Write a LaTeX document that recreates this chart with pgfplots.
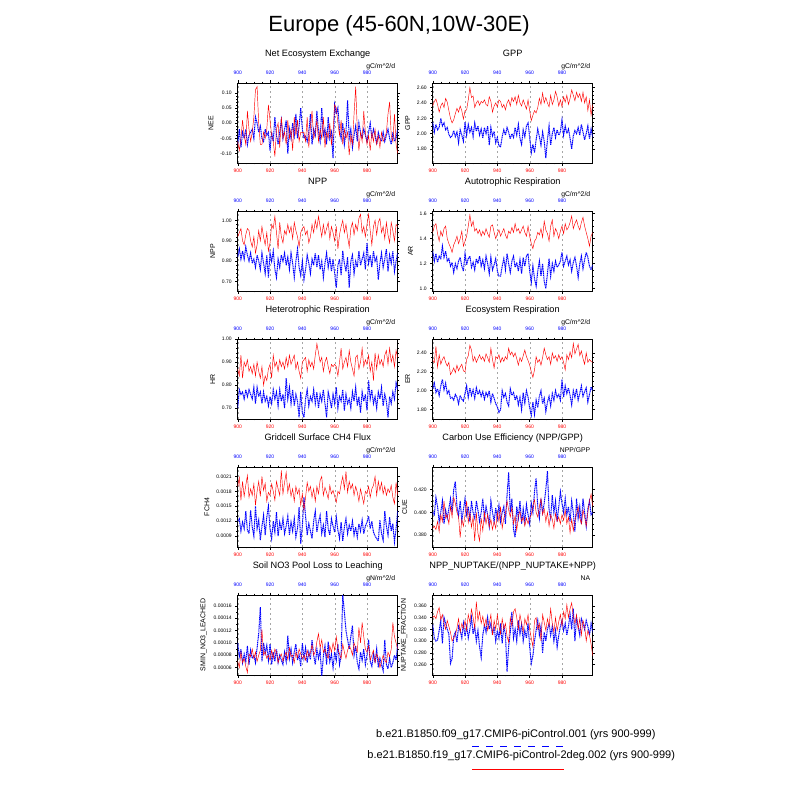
\documentclass[border=0pt]{standalone}
\usepackage{pgfplots}
\usepackage{pgfplotstable}
\pgfplotsset{compat=1.18}
\usepackage{fontspec}
\setmainfont{Liberation Sans}

\newcommand{\tickfont}{\fontsize{5}{5}\selectfont}

% ---- data: one column per series, years 900..999 ----
\pgfplotstableread[row sep=\\,header=false]{
-0.06\\ -0.09\\ -0.05\\ 0.01\\ -0.04\\ -0.07\\ 0.04\\ -0.02\\ -0.06\\ -0.03\\
0.02\\ 0.11\\ 0.12\\ 0.00\\ -0.07\\ -0.07\\ -0.03\\ -0.05\\ -0.02\\ 0.06\\
0.01\\ -0.04\\ -0.06\\ -0.11\\ -0.02\\ 0.00\\ -0.08\\ 0.02\\ -0.05\\ -0.03\\
-0.07\\ 0.01\\ -0.05\\ -0.02\\ -0.09\\ 0.02\\ -0.04\\ 0.01\\ -0.06\\ -0.03\\
-0.03\\ -0.03\\ -0.06\\ 0.02\\ -0.08\\ -0.01\\ 0.04\\ -0.05\\ -0.03\\ 0.01\\
-0.06\\ -0.02\\ -0.05\\ 0.02\\ -0.08\\ -0.03\\ -0.05\\ 0.00\\ -0.07\\ -0.03\\
0.06\\ 0.05\\ 0.00\\ -0.04\\ 0.01\\ -0.07\\ -0.02\\ -0.05\\ -0.03\\ -0.105\\
-0.04\\ -0.07\\ 0.03\\ 0.12\\ -0.02\\ -0.09\\ -0.03\\ -0.06\\ 0.04\\ -0.03\\
-0.07\\ -0.04\\ -0.09\\ -0.03\\ -0.06\\ -0.02\\ -0.07\\ -0.04\\ -0.08\\ -0.03\\
-0.06\\ -0.05\\ -0.03\\ 0.03\\ 0.07\\ -0.04\\ -0.06\\ 0.03\\ -0.07\\ -0.10\\
}\neeR
\pgfplotstableread[row sep=\\,header=false]{
-0.07\\ -0.02\\ -0.08\\ -0.03\\ -0.05\\ -0.02\\ -0.07\\ -0.04\\ -0.03\\ -0.02\\
-0.05\\ 0.02\\ 0.00\\ -0.03\\ -0.01\\ -0.05\\ -0.06\\ -0.02\\ -0.04\\ -0.03\\
-0.09\\ -0.03\\ -0.06\\ 0.02\\ -0.04\\ -0.07\\ -0.03\\ 0.01\\ -0.05\\ -0.02\\
0.01\\ -0.10\\ -0.02\\ -0.05\\ 0.00\\ -0.04\\ 0.03\\ -0.05\\ -0.01\\ 0.05\\
-0.02\\ -0.05\\ -0.04\\ -0.06\\ -0.03\\ 0.03\\ -0.07\\ -0.02\\ -0.04\\ 0.04\\
-0.03\\ -0.06\\ 0.05\\ -0.04\\ -0.02\\ -0.07\\ 0.02\\ -0.05\\ -0.03\\ -0.115\\
0.06\\ 0.03\\ 0.05\\ -0.02\\ -0.05\\ 0.00\\ -0.07\\ -0.03\\ 0.075\\ -0.05\\
-0.02\\ -0.08\\ -0.04\\ -0.01\\ -0.06\\ 0.00\\ -0.03\\ -0.05\\ -0.02\\ -0.04\\
-0.06\\ -0.03\\ 0.00\\ -0.05\\ -0.02\\ -0.04\\ -0.07\\ -0.03\\ -0.05\\ -0.06\\
-0.03\\ -0.06\\ -0.04\\ -0.02\\ -0.05\\ -0.07\\ -0.03\\ -0.06\\ -0.05\\ -0.02\\
}\neeB
\pgfplotstableread[row sep=\\,header=false]{
2.36\\ 2.42\\ 2.45\\ 2.38\\ 2.28\\ 2.36\\ 2.40\\ 2.34\\ 2.46\\ 2.41\\
2.30\\ 2.20\\ 2.14\\ 2.18\\ 2.26\\ 2.33\\ 2.28\\ 2.36\\ 2.30\\ 2.19\\
2.30\\ 2.31\\ 2.44\\ 2.60\\ 2.47\\ 2.49\\ 2.34\\ 2.40\\ 2.43\\ 2.37\\
2.42\\ 2.40\\ 2.44\\ 2.38\\ 2.36\\ 2.48\\ 2.42\\ 2.28\\ 2.36\\ 2.40\\
2.35\\ 2.44\\ 2.42\\ 2.34\\ 2.38\\ 2.31\\ 2.40\\ 2.44\\ 2.36\\ 2.47\\
2.42\\ 2.48\\ 2.38\\ 2.50\\ 2.40\\ 2.36\\ 2.44\\ 2.38\\ 2.32\\ 2.44\\
2.30\\ 2.17\\ 2.24\\ 2.30\\ 2.27\\ 2.34\\ 2.46\\ 2.38\\ 2.53\\ 2.40\\
2.47\\ 2.40\\ 2.35\\ 2.50\\ 2.38\\ 2.44\\ 2.55\\ 2.48\\ 2.36\\ 2.44\\
2.35\\ 2.48\\ 2.41\\ 2.50\\ 2.38\\ 2.46\\ 2.57\\ 2.50\\ 2.43\\ 2.54\\
2.47\\ 2.52\\ 2.42\\ 2.54\\ 2.40\\ 2.48\\ 2.30\\ 2.44\\ 2.24\\ 2.38\\
}\gppR
\pgfplotstableread[row sep=\\,header=false]{
2.15\\ 2.02\\ 2.12\\ 2.05\\ 2.08\\ 2.20\\ 2.10\\ 2.14\\ 2.05\\ 2.08\\
1.99\\ 1.95\\ 1.97\\ 2.04\\ 1.96\\ 2.02\\ 1.88\\ 2.05\\ 1.98\\ 1.90\\
2.15\\ 1.98\\ 2.12\\ 2.02\\ 2.08\\ 1.96\\ 2.14\\ 2.03\\ 2.10\\ 1.98\\
2.06\\ 1.94\\ 2.08\\ 2.00\\ 2.10\\ 1.85\\ 2.08\\ 1.97\\ 2.03\\ 1.88\\
1.95\\ 1.84\\ 1.83\\ 1.96\\ 2.05\\ 1.98\\ 2.08\\ 2.02\\ 1.93\\ 2.00\\
1.95\\ 2.08\\ 1.98\\ 2.12\\ 1.94\\ 1.86\\ 2.05\\ 1.96\\ 2.10\\ 2.14\\
1.95\\ 1.75\\ 1.86\\ 1.75\\ 1.92\\ 2.06\\ 1.96\\ 1.85\\ 2.02\\ 1.90\\
1.68\\ 1.92\\ 2.10\\ 1.85\\ 2.00\\ 2.08\\ 1.95\\ 2.05\\ 1.98\\ 2.02\\
2.18\\ 1.98\\ 2.10\\ 2.00\\ 2.06\\ 1.94\\ 1.80\\ 1.97\\ 2.04\\ 2.00\\
2.08\\ 1.98\\ 2.12\\ 2.02\\ 1.92\\ 2.00\\ 2.10\\ 1.93\\ 2.06\\ 1.95\\
}\gppB
\pgfplotstableread[row sep=\\,header=false]{
0.92\\ 0.94\\ 0.96\\ 0.90\\ 0.88\\ 0.93\\ 0.96\\ 0.95\\ 0.90\\ 0.87\\
0.92\\ 0.84\\ 0.88\\ 0.95\\ 0.90\\ 0.97\\ 0.92\\ 0.88\\ 0.94\\ 0.85\\
0.89\\ 0.98\\ 0.96\\ 1.02\\ 0.94\\ 0.86\\ 0.99\\ 0.92\\ 0.89\\ 0.95\\
0.93\\ 0.98\\ 0.94\\ 0.97\\ 0.91\\ 0.99\\ 0.95\\ 0.92\\ 0.87\\ 0.94\\
0.96\\ 0.97\\ 0.93\\ 0.95\\ 0.89\\ 0.92\\ 0.98\\ 0.94\\ 1.00\\ 0.96\\
1.02\\ 0.97\\ 0.92\\ 0.98\\ 0.93\\ 0.96\\ 0.99\\ 0.91\\ 0.97\\ 0.94\\
0.90\\ 0.97\\ 0.86\\ 0.93\\ 0.97\\ 1.00\\ 0.94\\ 0.98\\ 0.92\\ 0.87\\
0.96\\ 0.99\\ 0.93\\ 0.98\\ 0.95\\ 1.01\\ 1.03\\ 0.94\\ 0.97\\ 0.92\\
0.98\\ 1.03\\ 0.95\\ 0.88\\ 0.97\\ 1.00\\ 0.93\\ 0.99\\ 1.01\\ 0.94\\
0.97\\ 0.91\\ 0.99\\ 0.93\\ 0.89\\ 0.99\\ 0.95\\ 0.90\\ 0.98\\ 0.97\\
}\nppR
\pgfplotstableread[row sep=\\,header=false]{
0.82\\ 0.86\\ 0.81\\ 0.85\\ 0.81\\ 0.87\\ 0.83\\ 0.80\\ 0.84\\ 0.79\\
0.81\\ 0.77\\ 0.83\\ 0.80\\ 0.76\\ 0.84\\ 0.79\\ 0.74\\ 0.83\\ 0.72\\
0.84\\ 0.80\\ 0.85\\ 0.76\\ 0.72\\ 0.81\\ 0.77\\ 0.83\\ 0.80\\ 0.84\\
0.78\\ 0.82\\ 0.76\\ 0.84\\ 0.79\\ 0.72\\ 0.80\\ 0.86\\ 0.77\\ 0.73\\
0.80\\ 0.71\\ 0.76\\ 0.83\\ 0.79\\ 0.74\\ 0.81\\ 0.78\\ 0.84\\ 0.77\\
0.83\\ 0.76\\ 0.80\\ 0.72\\ 0.79\\ 0.84\\ 0.77\\ 0.82\\ 0.75\\ 0.81\\
0.74\\ 0.67\\ 0.78\\ 0.81\\ 0.73\\ 0.85\\ 0.79\\ 0.75\\ 0.82\\ 0.67\\
0.80\\ 0.83\\ 0.74\\ 0.80\\ 0.77\\ 0.85\\ 0.78\\ 0.81\\ 0.84\\ 0.76\\
0.89\\ 0.79\\ 0.83\\ 0.77\\ 0.85\\ 0.80\\ 0.82\\ 0.71\\ 0.79\\ 0.84\\
0.77\\ 0.81\\ 0.86\\ 0.75\\ 0.83\\ 0.79\\ 0.85\\ 0.75\\ 0.80\\ 0.84\\
}\nppB
\pgfplotstableread[row sep=\\,header=false]{
1.45\\ 1.50\\ 1.52\\ 1.44\\ 1.38\\ 1.46\\ 1.42\\ 1.48\\ 1.50\\ 1.40\\
1.36\\ 1.33\\ 1.29\\ 1.35\\ 1.38\\ 1.42\\ 1.36\\ 1.40\\ 1.46\\ 1.34\\
1.38\\ 1.42\\ 1.50\\ 1.59\\ 1.50\\ 1.54\\ 1.46\\ 1.48\\ 1.44\\ 1.47\\
1.42\\ 1.46\\ 1.43\\ 1.48\\ 1.44\\ 1.41\\ 1.50\\ 1.51\\ 1.45\\ 1.40\\
1.44\\ 1.47\\ 1.42\\ 1.45\\ 1.48\\ 1.43\\ 1.40\\ 1.46\\ 1.44\\ 1.49\\
1.45\\ 1.52\\ 1.46\\ 1.48\\ 1.44\\ 1.47\\ 1.50\\ 1.45\\ 1.42\\ 1.50\\
1.42\\ 1.36\\ 1.32\\ 1.38\\ 1.40\\ 1.45\\ 1.43\\ 1.48\\ 1.41\\ 1.54\\
1.47\\ 1.44\\ 1.38\\ 1.50\\ 1.55\\ 1.42\\ 1.48\\ 1.45\\ 1.40\\ 1.46\\
1.50\\ 1.44\\ 1.52\\ 1.47\\ 1.49\\ 1.53\\ 1.58\\ 1.48\\ 1.52\\ 1.55\\
1.50\\ 1.47\\ 1.53\\ 1.57\\ 1.50\\ 1.45\\ 1.40\\ 1.34\\ 1.42\\ 1.45\\
}\arR
\pgfplotstableread[row sep=\\,header=false]{
1.30\\ 1.22\\ 1.28\\ 1.21\\ 1.26\\ 1.24\\ 1.34\\ 1.25\\ 1.30\\ 1.22\\
1.24\\ 1.18\\ 1.21\\ 1.13\\ 1.20\\ 1.16\\ 1.22\\ 1.25\\ 1.18\\ 1.14\\
1.28\\ 1.19\\ 1.24\\ 1.26\\ 1.17\\ 1.21\\ 1.15\\ 1.24\\ 1.20\\ 1.26\\
1.18\\ 1.23\\ 1.16\\ 1.26\\ 1.20\\ 1.12\\ 1.25\\ 1.15\\ 1.19\\ 1.24\\
1.14\\ 1.10\\ 1.10\\ 1.18\\ 1.24\\ 1.15\\ 1.28\\ 1.20\\ 1.13\\ 1.22\\
1.26\\ 1.17\\ 1.21\\ 1.14\\ 1.23\\ 1.12\\ 1.25\\ 1.18\\ 1.26\\ 1.28\\
1.14\\ 1.05\\ 1.18\\ 1.08\\ 1.02\\ 1.14\\ 1.22\\ 1.10\\ 1.20\\ 1.06\\
1.00\\ 1.12\\ 1.24\\ 1.10\\ 1.20\\ 1.14\\ 1.22\\ 1.17\\ 1.19\\ 1.22\\
1.29\\ 1.18\\ 1.22\\ 1.26\\ 1.19\\ 1.23\\ 1.14\\ 1.21\\ 1.25\\ 1.18\\
1.09\\ 1.20\\ 1.26\\ 1.16\\ 1.23\\ 1.29\\ 1.25\\ 1.18\\ 1.15\\ 1.19\\
}\arB
\pgfplotstableread[row sep=\\,header=false]{
0.87\\ 0.84\\ 0.93\\ 0.83\\ 0.90\\ 0.88\\ 0.91\\ 0.86\\ 0.88\\ 0.85\\
0.89\\ 0.84\\ 0.90\\ 0.86\\ 0.83\\ 0.88\\ 0.80\\ 0.84\\ 0.82\\ 0.87\\
0.89\\ 0.83\\ 0.93\\ 0.88\\ 0.90\\ 0.86\\ 0.91\\ 0.88\\ 0.90\\ 0.87\\
0.92\\ 0.88\\ 0.93\\ 0.89\\ 0.91\\ 0.93\\ 0.87\\ 0.90\\ 0.86\\ 0.83\\
0.90\\ 0.91\\ 0.92\\ 0.86\\ 0.91\\ 0.88\\ 0.90\\ 0.87\\ 0.93\\ 0.98\\
0.94\\ 0.90\\ 0.92\\ 0.86\\ 0.90\\ 0.92\\ 0.88\\ 0.85\\ 0.89\\ 0.88\\
0.89\\ 0.88\\ 0.84\\ 0.90\\ 0.96\\ 0.87\\ 0.90\\ 0.92\\ 0.88\\ 0.95\\
0.90\\ 0.87\\ 0.84\\ 0.92\\ 0.93\\ 0.87\\ 0.90\\ 0.96\\ 0.88\\ 0.91\\
0.89\\ 0.93\\ 0.86\\ 0.90\\ 0.82\\ 0.94\\ 0.87\\ 0.93\\ 0.89\\ 0.91\\
0.88\\ 0.93\\ 0.95\\ 0.89\\ 0.96\\ 0.90\\ 0.93\\ 0.88\\ 0.95\\ 0.92\\
}\hrR
\pgfplotstableread[row sep=\\,header=false]{
0.70\\ 0.78\\ 0.76\\ 0.77\\ 0.74\\ 0.78\\ 0.75\\ 0.78\\ 0.76\\ 0.74\\
0.79\\ 0.72\\ 0.79\\ 0.75\\ 0.77\\ 0.72\\ 0.77\\ 0.73\\ 0.75\\ 0.71\\
0.75\\ 0.72\\ 0.78\\ 0.74\\ 0.77\\ 0.71\\ 0.78\\ 0.73\\ 0.76\\ 0.70\\
0.83\\ 0.74\\ 0.79\\ 0.72\\ 0.78\\ 0.71\\ 0.76\\ 0.73\\ 0.66\\ 0.77\\
0.68\\ 0.66\\ 0.74\\ 0.78\\ 0.71\\ 0.75\\ 0.73\\ 0.78\\ 0.72\\ 0.77\\
0.70\\ 0.76\\ 0.73\\ 0.78\\ 0.72\\ 0.66\\ 0.77\\ 0.74\\ 0.70\\ 0.76\\
0.72\\ 0.79\\ 0.70\\ 0.75\\ 0.73\\ 0.78\\ 0.69\\ 0.76\\ 0.72\\ 0.74\\
0.70\\ 0.77\\ 0.73\\ 0.79\\ 0.71\\ 0.75\\ 0.68\\ 0.77\\ 0.73\\ 0.76\\
0.69\\ 0.82\\ 0.74\\ 0.78\\ 0.72\\ 0.75\\ 0.70\\ 0.77\\ 0.74\\ 0.79\\
0.71\\ 0.76\\ 0.73\\ 0.66\\ 0.75\\ 0.72\\ 0.77\\ 0.74\\ 0.81\\ 0.78\\
}\hrB
\pgfplotstableread[row sep=\\,header=false]{
2.32\\ 2.30\\ 2.47\\ 2.25\\ 2.38\\ 2.28\\ 2.33\\ 2.36\\ 2.30\\ 2.26\\
2.30\\ 2.17\\ 2.20\\ 2.24\\ 2.19\\ 2.27\\ 2.21\\ 2.25\\ 2.28\\ 2.21\\
2.20\\ 2.33\\ 2.37\\ 2.48\\ 2.43\\ 2.31\\ 2.36\\ 2.30\\ 2.34\\ 2.38\\
2.33\\ 2.36\\ 2.31\\ 2.39\\ 2.35\\ 2.30\\ 2.45\\ 2.33\\ 2.24\\ 2.36\\
2.34\\ 2.38\\ 2.30\\ 2.35\\ 2.31\\ 2.36\\ 2.33\\ 2.45\\ 2.38\\ 2.41\\
2.36\\ 2.40\\ 2.34\\ 2.27\\ 2.35\\ 2.31\\ 2.37\\ 2.43\\ 2.36\\ 2.32\\
2.27\\ 2.20\\ 2.14\\ 2.22\\ 2.36\\ 2.30\\ 2.33\\ 2.27\\ 2.35\\ 2.45\\
2.38\\ 2.33\\ 2.36\\ 2.28\\ 2.40\\ 2.34\\ 2.37\\ 2.31\\ 2.38\\ 2.33\\
2.36\\ 2.30\\ 2.22\\ 2.38\\ 2.33\\ 2.41\\ 2.35\\ 2.50\\ 2.39\\ 2.44\\
2.49\\ 2.37\\ 2.42\\ 2.34\\ 2.28\\ 2.40\\ 2.30\\ 2.33\\ 2.31\\ 2.30\\
}\erR
\pgfplotstableread[row sep=\\,header=false]{
2.02\\ 2.08\\ 1.98\\ 2.02\\ 1.95\\ 2.05\\ 2.12\\ 2.01\\ 2.08\\ 1.97\\
2.00\\ 1.92\\ 1.93\\ 1.90\\ 1.96\\ 1.93\\ 1.86\\ 1.95\\ 1.91\\ 1.89\\
1.97\\ 2.05\\ 1.93\\ 2.03\\ 1.95\\ 2.01\\ 1.92\\ 2.03\\ 1.96\\ 2.00\\
1.94\\ 1.99\\ 1.91\\ 1.98\\ 1.94\\ 2.00\\ 1.88\\ 1.97\\ 1.92\\ 1.86\\
1.83\\ 1.77\\ 1.80\\ 2.00\\ 1.93\\ 1.97\\ 1.88\\ 1.84\\ 2.02\\ 1.95\\
1.98\\ 1.90\\ 1.95\\ 1.85\\ 1.93\\ 1.80\\ 1.98\\ 1.87\\ 2.00\\ 1.93\\
1.82\\ 1.74\\ 1.88\\ 1.75\\ 1.90\\ 1.82\\ 1.94\\ 2.00\\ 1.86\\ 1.92\\
1.78\\ 1.88\\ 1.94\\ 1.84\\ 1.97\\ 1.90\\ 2.00\\ 1.93\\ 1.96\\ 1.90\\
2.12\\ 1.93\\ 2.05\\ 1.97\\ 2.03\\ 1.95\\ 1.85\\ 2.00\\ 1.93\\ 2.02\\
1.90\\ 1.97\\ 2.05\\ 1.94\\ 1.99\\ 2.03\\ 1.88\\ 1.96\\ 2.04\\ 2.00\\
}\erB
\pgfplotstableread[row sep=\\,header=false]{
0.00190\\ 0.00208\\ 0.00162\\ 0.00200\\ 0.00170\\ 0.00192\\ 0.00212\\ 0.00168\\ 0.00185\\ 0.00172\\
0.00195\\ 0.00152\\ 0.00180\\ 0.00200\\ 0.00170\\ 0.00210\\ 0.00182\\ 0.00196\\ 0.00160\\ 0.00178\\
0.00172\\ 0.00195\\ 0.00180\\ 0.00162\\ 0.00200\\ 0.00185\\ 0.00172\\ 0.00222\\ 0.00175\\ 0.00198\\
0.00218\\ 0.00178\\ 0.00195\\ 0.00170\\ 0.00185\\ 0.00160\\ 0.00190\\ 0.00175\\ 0.00185\\ 0.00152\\
0.00175\\ 0.00142\\ 0.00168\\ 0.00198\\ 0.00180\\ 0.00190\\ 0.00168\\ 0.00185\\ 0.00160\\ 0.00190\\
0.00175\\ 0.00202\\ 0.00210\\ 0.00172\\ 0.00188\\ 0.00178\\ 0.00165\\ 0.00192\\ 0.00175\\ 0.00182\\
0.00170\\ 0.00158\\ 0.00180\\ 0.00175\\ 0.00195\\ 0.00210\\ 0.00185\\ 0.00220\\ 0.00178\\ 0.00200\\
0.00185\\ 0.00195\\ 0.00172\\ 0.00190\\ 0.00178\\ 0.00160\\ 0.00185\\ 0.00170\\ 0.00155\\ 0.00180\\
0.00175\\ 0.00190\\ 0.00168\\ 0.00185\\ 0.00192\\ 0.00210\\ 0.00172\\ 0.00200\\ 0.00182\\ 0.00198\\
0.00175\\ 0.00190\\ 0.00172\\ 0.00185\\ 0.00178\\ 0.00192\\ 0.00168\\ 0.00155\\ 0.00198\\ 0.00172\\
}\chR
\pgfplotstableread[row sep=\\,header=false]{
0.00120\\ 0.00125\\ 0.00100\\ 0.00118\\ 0.00105\\ 0.00140\\ 0.00102\\ 0.00095\\ 0.00142\\ 0.00108\\
0.00090\\ 0.00150\\ 0.00105\\ 0.00122\\ 0.00082\\ 0.00110\\ 0.00132\\ 0.00092\\ 0.00128\\ 0.00150\\
0.00105\\ 0.00085\\ 0.00120\\ 0.00098\\ 0.00138\\ 0.00090\\ 0.00118\\ 0.00102\\ 0.00125\\ 0.00095\\
0.00110\\ 0.00130\\ 0.00092\\ 0.00118\\ 0.00100\\ 0.00125\\ 0.00088\\ 0.00105\\ 0.00148\\ 0.00075\\
0.00110\\ 0.00168\\ 0.00130\\ 0.00092\\ 0.00115\\ 0.00100\\ 0.00085\\ 0.00120\\ 0.00140\\ 0.00098\\
0.00118\\ 0.00132\\ 0.00095\\ 0.00112\\ 0.00088\\ 0.00140\\ 0.00105\\ 0.00092\\ 0.00125\\ 0.00110\\
0.00098\\ 0.00128\\ 0.00102\\ 0.00085\\ 0.00118\\ 0.00080\\ 0.00108\\ 0.00125\\ 0.00095\\ 0.00112\\
0.00100\\ 0.00120\\ 0.00092\\ 0.00108\\ 0.00088\\ 0.00115\\ 0.00100\\ 0.00122\\ 0.00095\\ 0.00110\\
0.00118\\ 0.00130\\ 0.00105\\ 0.00120\\ 0.00098\\ 0.00090\\ 0.00085\\ 0.00080\\ 0.00122\\ 0.00095\\
0.00082\\ 0.00140\\ 0.00110\\ 0.00092\\ 0.00128\\ 0.00100\\ 0.00115\\ 0.00078\\ 0.00105\\ 0.00140\\
}\chB
\pgfplotstableread[row sep=\\,header=false]{
0.386\\ 0.388\\ 0.385\\ 0.392\\ 0.383\\ 0.398\\ 0.392\\ 0.410\\ 0.395\\ 0.398\\
0.390\\ 0.405\\ 0.396\\ 0.413\\ 0.408\\ 0.400\\ 0.396\\ 0.378\\ 0.394\\ 0.388\\
0.398\\ 0.410\\ 0.391\\ 0.400\\ 0.387\\ 0.396\\ 0.375\\ 0.400\\ 0.382\\ 0.375\\
0.395\\ 0.384\\ 0.400\\ 0.390\\ 0.398\\ 0.387\\ 0.394\\ 0.385\\ 0.392\\ 0.386\\
0.400\\ 0.392\\ 0.405\\ 0.386\\ 0.395\\ 0.399\\ 0.410\\ 0.402\\ 0.396\\ 0.404\\
0.390\\ 0.397\\ 0.384\\ 0.397\\ 0.401\\ 0.392\\ 0.396\\ 0.388\\ 0.395\\ 0.390\\
0.395\\ 0.398\\ 0.406\\ 0.411\\ 0.400\\ 0.396\\ 0.405\\ 0.412\\ 0.398\\ 0.403\\
0.392\\ 0.400\\ 0.388\\ 0.398\\ 0.394\\ 0.386\\ 0.399\\ 0.392\\ 0.396\\ 0.390\\
0.398\\ 0.393\\ 0.402\\ 0.390\\ 0.396\\ 0.382\\ 0.394\\ 0.384\\ 0.393\\ 0.398\\
0.405\\ 0.395\\ 0.390\\ 0.402\\ 0.396\\ 0.388\\ 0.400\\ 0.410\\ 0.416\\ 0.405\\
}\cueR
\pgfplotstableread[row sep=\\,header=false]{
0.400\\ 0.398\\ 0.413\\ 0.405\\ 0.392\\ 0.400\\ 0.410\\ 0.390\\ 0.402\\ 0.395\\
0.403\\ 0.412\\ 0.400\\ 0.420\\ 0.427\\ 0.405\\ 0.397\\ 0.410\\ 0.393\\ 0.402\\
0.412\\ 0.398\\ 0.405\\ 0.392\\ 0.410\\ 0.400\\ 0.395\\ 0.410\\ 0.402\\ 0.392\\
0.400\\ 0.412\\ 0.395\\ 0.405\\ 0.398\\ 0.388\\ 0.410\\ 0.400\\ 0.392\\ 0.404\\
0.395\\ 0.406\\ 0.392\\ 0.400\\ 0.405\\ 0.390\\ 0.415\\ 0.435\\ 0.400\\ 0.412\\
0.385\\ 0.378\\ 0.405\\ 0.395\\ 0.410\\ 0.390\\ 0.403\\ 0.392\\ 0.407\\ 0.398\\
0.390\\ 0.408\\ 0.400\\ 0.418\\ 0.430\\ 0.405\\ 0.395\\ 0.412\\ 0.400\\ 0.408\\
0.420\\ 0.436\\ 0.402\\ 0.395\\ 0.415\\ 0.400\\ 0.410\\ 0.392\\ 0.405\\ 0.418\\
0.408\\ 0.400\\ 0.412\\ 0.398\\ 0.405\\ 0.392\\ 0.410\\ 0.400\\ 0.383\\ 0.412\\
0.395\\ 0.405\\ 0.390\\ 0.412\\ 0.400\\ 0.388\\ 0.403\\ 0.410\\ 0.398\\ 0.400\\
}\cueB
\pgfplotstableread[row sep=\\,header=false]{
0.000070\\ 0.000060\\ 0.000085\\ 0.000068\\ 0.000075\\ 0.000062\\ 0.000052\\ 0.000082\\ 0.000078\\ 0.000090\\
0.000075\\ 0.000085\\ 0.000070\\ 0.000080\\ 0.000088\\ 0.000122\\ 0.000080\\ 0.000086\\ 0.000075\\ 0.000080\\
0.000072\\ 0.000088\\ 0.000075\\ 0.000090\\ 0.000085\\ 0.000068\\ 0.000078\\ 0.000082\\ 0.000070\\ 0.000080\\
0.000085\\ 0.000073\\ 0.000092\\ 0.000078\\ 0.000080\\ 0.000068\\ 0.000085\\ 0.000076\\ 0.000090\\ 0.000082\\
0.000075\\ 0.000080\\ 0.000072\\ 0.000088\\ 0.000078\\ 0.000085\\ 0.000097\\ 0.000080\\ 0.000086\\ 0.000102\\
0.000115\\ 0.000092\\ 0.000105\\ 0.000085\\ 0.000090\\ 0.000080\\ 0.000075\\ 0.000095\\ 0.000085\\ 0.000100\\
0.000088\\ 0.000110\\ 0.000090\\ 0.000082\\ 0.000075\\ 0.000098\\ 0.000085\\ 0.000075\\ 0.000088\\ 0.000095\\
0.000090\\ 0.000080\\ 0.000100\\ 0.000092\\ 0.000085\\ 0.000125\\ 0.000100\\ 0.000133\\ 0.000110\\ 0.000090\\
0.000085\\ 0.000095\\ 0.000072\\ 0.000080\\ 0.000088\\ 0.000068\\ 0.000082\\ 0.000075\\ 0.000060\\ 0.000070\\
0.000080\\ 0.000072\\ 0.000068\\ 0.000085\\ 0.000078\\ 0.000090\\ 0.000133\\ 0.000110\\ 0.000100\\ 0.000090\\
}\noR
\pgfplotstableread[row sep=\\,header=false]{
0.000100\\ 0.000078\\ 0.000090\\ 0.000068\\ 0.000082\\ 0.000070\\ 0.000095\\ 0.000065\\ 0.000088\\ 0.000075\\
0.000080\\ 0.000068\\ 0.000092\\ 0.000115\\ 0.000158\\ 0.000070\\ 0.000100\\ 0.000083\\ 0.000096\\ 0.000072\\
0.000098\\ 0.000065\\ 0.000085\\ 0.000070\\ 0.000090\\ 0.000068\\ 0.000080\\ 0.000072\\ 0.000065\\ 0.000085\\
0.000070\\ 0.000112\\ 0.000075\\ 0.000090\\ 0.000068\\ 0.000085\\ 0.000098\\ 0.000072\\ 0.000080\\ 0.000062\\
0.000100\\ 0.000075\\ 0.000092\\ 0.000068\\ 0.000085\\ 0.000073\\ 0.000105\\ 0.000080\\ 0.000065\\ 0.000090\\
0.000075\\ 0.000088\\ 0.000045\\ 0.000078\\ 0.000095\\ 0.000065\\ 0.000102\\ 0.000070\\ 0.000082\\ 0.000060\\
0.000085\\ 0.000072\\ 0.000098\\ 0.000065\\ 0.000080\\ 0.000178\\ 0.000150\\ 0.000120\\ 0.000105\\ 0.000090\\
0.000110\\ 0.000128\\ 0.000080\\ 0.000095\\ 0.000068\\ 0.000058\\ 0.000085\\ 0.000072\\ 0.000090\\ 0.000065\\
0.000080\\ 0.000105\\ 0.000070\\ 0.000062\\ 0.000082\\ 0.000068\\ 0.000090\\ 0.000060\\ 0.000075\\ 0.000065\\
0.000055\\ 0.000105\\ 0.000065\\ 0.000058\\ 0.000075\\ 0.000060\\ 0.000068\\ 0.000080\\ 0.000072\\ 0.000098\\
}\noB
\pgfplotstableread[row sep=\\,header=false]{
0.340\\ 0.343\\ 0.338\\ 0.350\\ 0.357\\ 0.336\\ 0.345\\ 0.330\\ 0.320\\ 0.335\\
0.325\\ 0.315\\ 0.300\\ 0.305\\ 0.310\\ 0.322\\ 0.338\\ 0.315\\ 0.330\\ 0.322\\
0.335\\ 0.318\\ 0.345\\ 0.332\\ 0.354\\ 0.340\\ 0.322\\ 0.367\\ 0.335\\ 0.350\\
0.330\\ 0.342\\ 0.325\\ 0.338\\ 0.318\\ 0.330\\ 0.345\\ 0.310\\ 0.335\\ 0.320\\
0.345\\ 0.325\\ 0.312\\ 0.338\\ 0.320\\ 0.330\\ 0.308\\ 0.298\\ 0.340\\ 0.325\\
0.350\\ 0.355\\ 0.340\\ 0.320\\ 0.345\\ 0.330\\ 0.315\\ 0.338\\ 0.328\\ 0.345\\
0.320\\ 0.305\\ 0.290\\ 0.335\\ 0.340\\ 0.320\\ 0.330\\ 0.300\\ 0.345\\ 0.332\\
0.318\\ 0.338\\ 0.325\\ 0.355\\ 0.330\\ 0.315\\ 0.340\\ 0.318\\ 0.333\\ 0.345\\
0.325\\ 0.350\\ 0.338\\ 0.362\\ 0.340\\ 0.355\\ 0.365\\ 0.342\\ 0.330\\ 0.345\\
0.320\\ 0.338\\ 0.310\\ 0.335\\ 0.325\\ 0.300\\ 0.318\\ 0.310\\ 0.295\\ 0.275\\
}\nuR
\pgfplotstableread[row sep=\\,header=false]{
0.328\\ 0.305\\ 0.300\\ 0.302\\ 0.318\\ 0.335\\ 0.296\\ 0.340\\ 0.330\\ 0.320\\
0.312\\ 0.262\\ 0.270\\ 0.308\\ 0.315\\ 0.298\\ 0.325\\ 0.318\\ 0.305\\ 0.330\\
0.308\\ 0.325\\ 0.305\\ 0.320\\ 0.340\\ 0.312\\ 0.325\\ 0.300\\ 0.318\\ 0.290\\
0.272\\ 0.310\\ 0.328\\ 0.315\\ 0.340\\ 0.320\\ 0.330\\ 0.310\\ 0.325\\ 0.300\\
0.318\\ 0.305\\ 0.330\\ 0.296\\ 0.325\\ 0.312\\ 0.248\\ 0.290\\ 0.315\\ 0.350\\
0.305\\ 0.320\\ 0.300\\ 0.335\\ 0.312\\ 0.328\\ 0.300\\ 0.318\\ 0.305\\ 0.330\\
0.290\\ 0.262\\ 0.275\\ 0.300\\ 0.318\\ 0.335\\ 0.310\\ 0.325\\ 0.280\\ 0.315\\
0.300\\ 0.320\\ 0.330\\ 0.310\\ 0.325\\ 0.300\\ 0.318\\ 0.290\\ 0.310\\ 0.325\\
0.335\\ 0.318\\ 0.330\\ 0.310\\ 0.325\\ 0.345\\ 0.320\\ 0.355\\ 0.300\\ 0.340\\
0.325\\ 0.310\\ 0.338\\ 0.330\\ 0.320\\ 0.335\\ 0.325\\ 0.310\\ 0.330\\ 0.315\\
}\nuB

\pgfplotsset{
  panel/.style={
    scale only axis, width=160pt, height=80pt, anchor=north west,
    xmin=900, xmax=999, xtick={900,920,940,960,980},
    minor x tick num=3,
    xmajorgrids,
    major grid style={black!35, dash pattern=on 2.5pt off 2.5pt, line width=0.3pt},
    tick align=outside, major tick length=2.5pt, minor tick length=1.3pt,
    every tick/.style={black, line width=0.35pt},
    axis line style={line width=0.9pt},
    xticklabel style={text=red, font=\tickfont},
    yticklabel style={font=\tickfont},
    ylabel style={font=\fontsize{7}{8}\selectfont},
    /pgf/number format/assume math mode=true,
    scaled y ticks=false,
  },
  redline/.style={red, line width=0.45pt},
  blueline/.style={blue, line width=1.0pt, dash pattern=on 1.2pt off 0.6pt},
}

% title, units and blue top tick labels of one panel (x of left edge, y of top edge)
\newcommand{\decor}[4]{%
  \node[anchor=base, font=\fontsize{9.2}{10}\selectfont] at ({#1pt+80pt},{-#2pt+26.8pt}) {#3};
  \node[anchor=base east, font=\fontsize{6.8}{7}\selectfont] at ({#1pt+161pt},{-#2pt+14.8pt}) {#4};
  \foreach \lab [count=\k from 0] in {900,920,940,960,980}
    \node[anchor=base, text=blue, font=\tickfont] at ({#1pt+\k*32.32pt},{-#2pt+8.8pt}) {\lab};
}

\newcommand{\un}{gC/m\textasciicircum 2/d}

\begin{document}
\begin{tikzpicture}
\path[use as bounding box] (0,0) rectangle (800pt,-800pt);

\node[anchor=base, font=\fontsize{22}{24}\selectfont] at (399pt,-31.7pt) {Europe (45-60N,10W-30E)};

% row 1
\begin{axis}[panel, at={(237.7pt,-83pt)}, ymin=-0.131, ymax=0.132,
  ytick={-0.1,-0.05,0,0.05,0.1}, yticklabels={-0.10,-0.05,0.00,0.05,0.10},
  minor y tick num=4, ylabel={NEE}]
\addplot[blueline] table[x expr=\coordindex+900, y index=0] {\neeB};
\addplot[redline] table[x expr=\coordindex+900, y index=0] {\neeR};
\end{axis}
\decor{237.7}{83}{Net Ecosystem Exchange}{\un}

\begin{axis}[panel, at={(432.7pt,-83pt)}, ymin=1.617, ymax=2.66,
  ytick={1.8,2.0,2.2,2.4,2.6}, yticklabels={1.80,2.00,2.20,2.40,2.60},
  minor y tick num=3, ylabel={GPP}]
\addplot[blueline] table[x expr=\coordindex+900, y index=0] {\gppB};
\addplot[redline] table[x expr=\coordindex+900, y index=0] {\gppR};
\end{axis}
\decor{432.7}{83}{GPP}{\un}

% row 2
\begin{axis}[panel, at={(237.7pt,-211pt)}, ymin=0.654, ymax=1.046,
  ytick={0.7,0.8,0.9,1.0}, yticklabels={0.70,0.80,0.90,1.00},
  minor y tick num=4, ylabel={NPP}]
\addplot[blueline] table[x expr=\coordindex+900, y index=0] {\nppB};
\addplot[redline] table[x expr=\coordindex+900, y index=0] {\nppR};
\end{axis}
\decor{237.7}{211}{NPP}{\un}

\begin{axis}[panel, at={(432.7pt,-211pt)}, ymin=0.981, ymax=1.621,
  ytick={1.0,1.2,1.4,1.6}, yticklabels={1.0,1.2,1.4,1.6},
  minor y tick num=3, ylabel={AR}]
\addplot[blueline] table[x expr=\coordindex+900, y index=0] {\arB};
\addplot[redline] table[x expr=\coordindex+900, y index=0] {\arR};
\end{axis}
\decor{432.7}{211}{Autotrophic Respiration}{\un}

% row 3
\begin{axis}[panel, at={(237.7pt,-339pt)}, ymin=0.653, ymax=1.0,
  ytick={0.7,0.8,0.9,1.0}, yticklabels={0.70,0.80,0.90,1.00},
  minor y tick num=4, ylabel={HR}]
\addplot[blueline] table[x expr=\coordindex+900, y index=0] {\hrB};
\addplot[redline] table[x expr=\coordindex+900, y index=0] {\hrR};
\end{axis}
\decor{237.7}{339}{Heterotrophic Respiration}{\un}

\begin{axis}[panel, at={(432.7pt,-339pt)}, ymin=1.70, ymax=2.547,
  ytick={1.8,2.0,2.2,2.4}, yticklabels={1.80,2.00,2.20,2.40},
  minor y tick num=3, ylabel={ER}]
\addplot[blueline] table[x expr=\coordindex+900, y index=0] {\erB};
\addplot[redline] table[x expr=\coordindex+900, y index=0] {\erR};
\end{axis}
\decor{432.7}{339}{Ecosystem Respiration}{\un}

% row 4
\begin{axis}[panel, at={(237.7pt,-467pt)}, ymin=0.00068, ymax=0.00229,
  ytick={0.0009,0.0012,0.0015,0.0018,0.0021},
  yticklabels={0.0009,0.0012,0.0015,0.0018,0.0021},
  minor y tick num=2, ylabel={FCH4}]
\addplot[blueline] table[x expr=\coordindex+900, y index=0] {\chB};
\addplot[redline] table[x expr=\coordindex+900, y index=0] {\chR};
\end{axis}
\decor{237.7}{467}{Gridcell Surface CH4 Flux}{\un}

\begin{axis}[panel, at={(432.7pt,-467pt)}, ymin=0.3697, ymax=0.4397,
  ytick={0.38,0.40,0.42}, yticklabels={0.380,0.400,0.420},
  minor y tick num=3, ylabel={CUE}]
\addplot[blueline] table[x expr=\coordindex+900, y index=0] {\cueB};
\addplot[redline] table[x expr=\coordindex+900, y index=0] {\cueR};
\end{axis}
\decor{432.7}{467}{Carbon Use Efficiency (NPP/GPP)}{NPP/GPP}

% row 5
\begin{axis}[panel, at={(237.7pt,-595pt)}, ymin=0.000048, ymax=0.0001775,
  ytick={0.00006,0.00008,0.0001,0.00012,0.00014,0.00016},
  yticklabels={0.00006,0.00008,0.00010,0.00012,0.00014,0.00016},
  minor y tick num=1, ylabel={SMIN\_NO3\_LEACHED}]
\addplot[blueline] table[x expr=\coordindex+900, y index=0] {\noB};
\addplot[redline] table[x expr=\coordindex+900, y index=0] {\noR};
\end{axis}
\decor{237.7}{595}{Soil NO3 Pool Loss to Leaching}{gN/m\textasciicircum 2/d}

\begin{axis}[panel, at={(432.7pt,-595pt)}, ymin=0.2422, ymax=0.3784,
  ytick={0.26,0.28,0.30,0.32,0.34,0.36},
  yticklabels={0.260,0.280,0.300,0.320,0.340,0.360},
  minor y tick num=1, ylabel={NUPTAKE\_FRACTION}]
\addplot[blueline] table[x expr=\coordindex+900, y index=0] {\nuB};
\addplot[redline] table[x expr=\coordindex+900, y index=0] {\nuR};
\end{axis}
\decor{432.7}{595}{NPP\_NUPTAKE/(NPP\_NUPTAKE+NPP)}{NA}

% legend
\node[anchor=base, font=\fontsize{11}{12}\selectfont] at (515.8pt,-737.3pt)
  {b.e21.B1850.f09\_g17.CMIP6-piControl.001 (yrs 900-999)};
\draw[blue, line width=0.7pt, dash pattern=on 6.7pt off 7.3pt] (472.3pt,-746pt) -- (564.3pt,-746pt);
\node[anchor=base, font=\fontsize{11}{12}\selectfont] at (521.2pt,-758.3pt)
  {b.e21.B1850.f19\_g17.CMIP6-piControl-2deg.002 (yrs 900-999)};
\draw[red, line width=0.7pt] (472.3pt,-769.3pt) -- (564.3pt,-769.3pt);
\end{tikzpicture}
\end{document}
